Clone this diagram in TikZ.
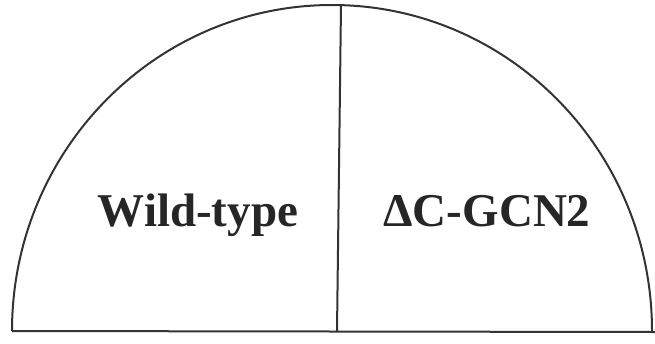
\documentclass[tikz,border=0pt]{standalone}
\usepackage{fontspec}
\setmainfont{Liberation Serif}
\usetikzlibrary{positioning}

\begin{document}
\begin{tikzpicture}[
  x=1pt, y=-1pt,
  outline/.style={draw=black!80, line width=2pt},
  lab/.style={font=\fontsize{47}{50}\selectfont\bfseries, text=black!85, anchor=base, inner sep=0pt},
]
\useasboundingbox (0,0) rectangle (655,343);
% half disc and its dividing line
\draw[outline] (12,331) arc[start angle=180, end angle=360, x radius=320, y radius=326];
\draw[outline] (12,331) -- (655,332);
\coordinate (top) at (341,5);
\coordinate (foot) at (337,331);
\draw[outline] (top) -- (foot);
% labels
\node[lab] (wt) at (198,226) {Wild-type};
\node[lab] (dc) at (487,226) {ΔC-GCN2};
\end{tikzpicture}
\end{document}
